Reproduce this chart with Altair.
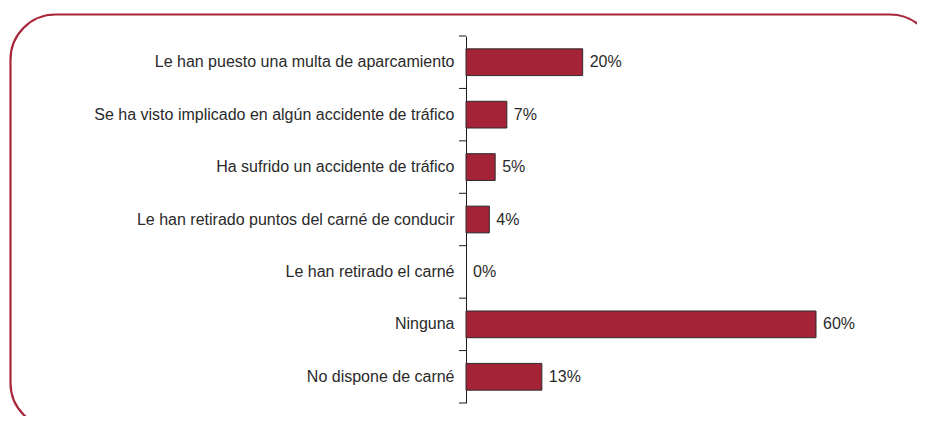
import altair as alt
import pandas as pd

categories = [
    "Le han puesto una multa de aparcamiento",
    "Se ha visto implicado en algún accidente de tráfico",
    "Ha sufrido un accidente de tráfico",
    "Le han retirado puntos del carné de conducir",
    "Le han retirado el carné",
    "Ninguna",
    "No dispone de carné",
]
values = [20, 7, 5, 4, 0, 60, 13]

df = pd.DataFrame({"cat": categories, "value": values})
df["label"] = [f"{v}%" for v in values]

FONT = "Liberation Sans"
RED = "#a52337"
INK = "#1a1a1a"

y_scale = alt.Scale(paddingInner=0, paddingOuter=0)

y_enc = alt.Y(
    "cat:N",
    sort=categories,
    title=None,
    scale=y_scale,
    axis=alt.Axis(
        ticks=False,
        labelPadding=12,
        labelFontSize=16,
        labelFont=FONT,
        labelColor="#2a2a2a",
        labelLimit=600,
        domainColor=INK,
        domainWidth=1,
    ),
)
x_enc = alt.X(
    "value:Q",
    scale=alt.Scale(domain=[0, 60], nice=False, zero=True),
    axis=None,
)

bars = alt.Chart(df).transform_filter("datum.value > 0").mark_bar(
    fill=RED, stroke="#2b2b2b", strokeWidth=1, height={"band": 0.51}
).encode(x=x_enc, y=y_enc)

text = alt.Chart(df).mark_text(
    align="left", baseline="middle", dx=7, fontSize=16, font=FONT, color="#2a2a2a"
).encode(x=x_enc, y=alt.Y("cat:N", sort=categories), text="label:N")

ticks_top = alt.Chart(df).mark_rule(color=INK, strokeWidth=1).encode(
    y=alt.Y("cat:N", sort=categories, bandPosition=0),
    x=alt.value(-7), x2=alt.value(0),
)
ticks_end = alt.Chart(df).transform_filter(
    alt.datum.cat == categories[-1]
).mark_rule(color=INK, strokeWidth=1).encode(
    y=alt.Y("cat:N", sort=categories, bandPosition=1),
    x=alt.value(-7), x2=alt.value(0),
)

frame = alt.Chart(alt.Data(values=[{}])).mark_rect(
    fill="transparent", stroke="#a82639", strokeWidth=2.2, cornerRadius=45
).encode(
    x=alt.value(-455.5), x2=alt.value(469),
    y=alt.value(-21.5), y2=alt.value(392),
)

chart = alt.layer(frame, bars, text, ticks_top, ticks_end).properties(
    width=350,
    height=367,
    autosize=alt.AutoSizeParams(type="none"),
    padding={"left": 458, "top": 28, "right": 101, "bottom": 13},
).configure_view(stroke=None)

chart.save("out.html", embed_options={"renderer": "svg", "actions": False})
